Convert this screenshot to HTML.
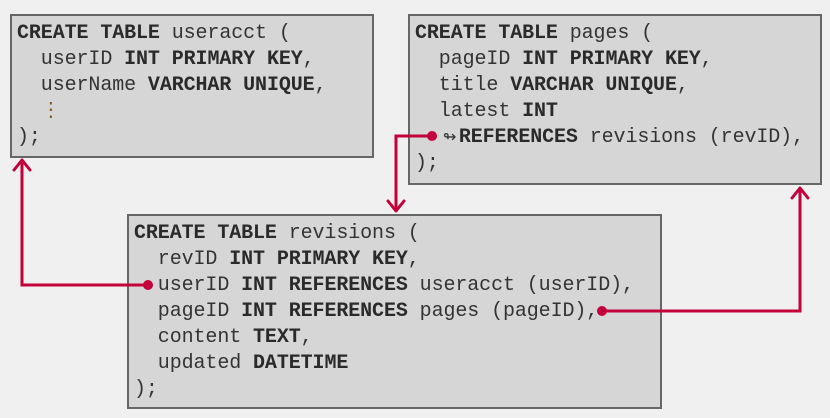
<!DOCTYPE html>
<html><head><style>
body{margin:0;width:830px;height:418px;background:#f0f0f0;position:relative;overflow:hidden}
.b{position:absolute;background:#d6d6d6;border:2px solid #666;box-sizing:border-box;
font-family:"Liberation Mono",monospace;font-size:20px;letter-spacing:-0.1px;color:#333;line-height:26px;padding:5px 0 0 5px;white-space:pre}
b{color:#2a2a2a}
.d{color:#8a5a20}
svg{position:absolute;left:0;top:0}
</style></head><body>
<div class="b" style="left:10px;top:14px;width:364px;height:144px"><b>CREATE TABLE</b> useracct (
  userID <b>INT PRIMARY KEY</b>,
  userName <b>VARCHAR UNIQUE</b>,
  <span class="d">⋮</span>
);</div>
<div class="b" style="left:408px;top:14px;width:414px;height:171px"><b>CREATE TABLE</b> pages (
  pageID <b>INT PRIMARY KEY</b>,
  title <b>VARCHAR UNIQUE</b>,
  latest <b>INT</b>
  <span style="display:inline-block;width:20px"></span><b>REFERENCES</b> revisions (revID),
);</div>
<div class="b" style="left:127px;top:214px;width:535px;height:195px"><b>CREATE TABLE</b> revisions (
  revID <b>INT PRIMARY KEY</b>,
  userID <b>INT REFERENCES</b> useracct (userID),
  pageID <b>INT REFERENCES</b> pages (pageID),
  content <b>TEXT</b>,
  updated <b>DATETIME</b>
);</div>
<svg width="830" height="418" fill="none" stroke="#c4003a" stroke-width="3">
<text x="443" y="142" font-size="16" fill="#333" stroke="none" font-family="DejaVu Sans">↬</text>
<polyline points="148,285 22,285 22,160"/>
<polyline points="14,170 22,160 30,170" stroke-linecap="round" stroke-linejoin="round"/>
<circle cx="148" cy="285" r="5" fill="#c4003a" stroke="none"/>
<polyline points="432,136 396,136 396,211"/>
<polyline points="388,201 396,211 404,201" stroke-linecap="round" stroke-linejoin="round"/>
<circle cx="432" cy="136" r="5" fill="#c4003a" stroke="none"/>
<polyline points="602,311 800,311 800,188"/>
<polyline points="792,198 800,188 808,198" stroke-linecap="round" stroke-linejoin="round"/>
<circle cx="602" cy="311" r="5" fill="#c4003a" stroke="none"/>
</svg>
</body></html>
